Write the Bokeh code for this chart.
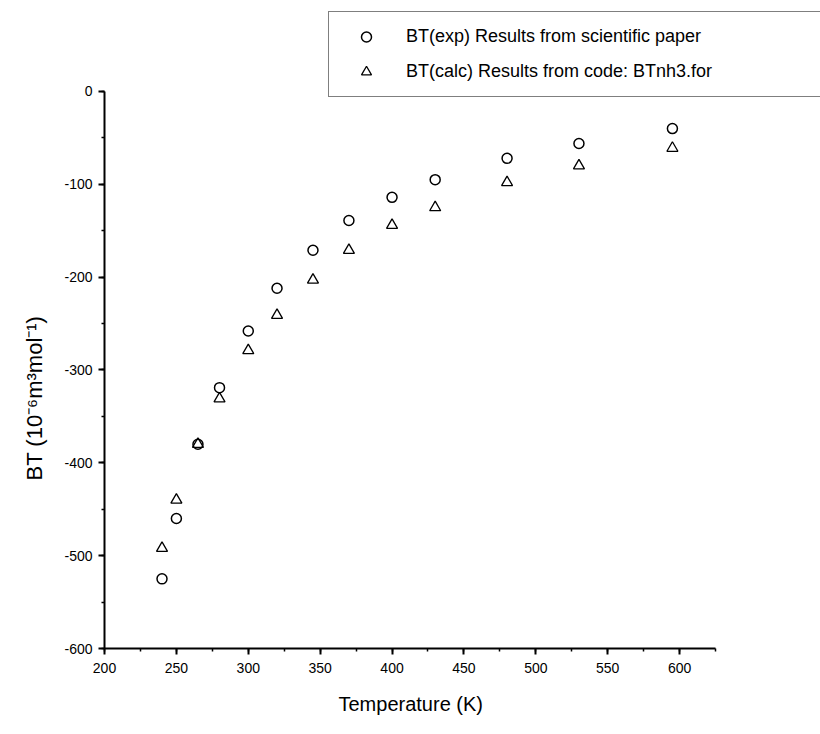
from bokeh.plotting import figure
from bokeh.models import Legend, LegendItem, SingleIntervalTicker, Range1d, CustomJSTickFormatter, Title
from bokeh.embed import file_html
from bokeh.resources import INLINE

temps = [240, 250, 265, 280, 300, 320, 345, 370, 400, 430, 480, 530, 595]
bt_exp = [-525, -460, -380, -319, -258, -212, -171, -139, -114, -95, -72, -56, -40]
bt_calc = [-492, -440, -380, -331, -279, -241, -203, -171, -144, -125, -98, -80, -61]

label_exp = "BT(exp) Results from scientific paper"
label_calc = "BT(calc) Results from code: BTnh3.for"
x_label = "Temperature (K)"
y_label = "BT (10\u207b\u2076m\u00b3mol\u207b\u00b9)"

FONT = "Liberation Sans"

p = figure(width=820, height=734, output_backend="svg", toolbar_location=None,
           x_range=Range1d(200, 698), y_range=Range1d(-600, 98),
           min_border_left=104, min_border_right=0, min_border_top=0, min_border_bottom=86)
p.outline_line_color = None
p.xgrid.visible = False
p.ygrid.visible = False
p.background_fill_color = "white"
p.border_fill_color = "white"

r1 = p.scatter(temps, bt_exp, marker="circle", size=10, fill_color=None,
               line_color="black", line_width=1.5)
r2 = p.scatter(temps, bt_calc, marker="triangle", size=11, fill_color=None,
               line_color="black", line_width=1.3)

p.xaxis.ticker = SingleIntervalTicker(interval=50, num_minor_ticks=2)
p.yaxis.ticker = SingleIntervalTicker(interval=100, num_minor_ticks=2)
p.xaxis.formatter = CustomJSTickFormatter(code="return String(tick);")
p.yaxis.formatter = CustomJSTickFormatter(code="return String(tick);")
p.xaxis.bounds = (200, 625)
p.yaxis.bounds = (-600, 0)

for ax in (p.xaxis[0], p.yaxis[0]):
    ax.axis_line_width = 2
    ax.axis_line_color = "black"
    ax.major_tick_line_width = 2
    ax.major_tick_line_color = "black"
    ax.minor_tick_line_color = "black"
    ax.minor_tick_line_width = 1.5
    ax.major_tick_out = 6
    ax.major_tick_in = 0
    ax.minor_tick_out = 3
    ax.minor_tick_in = 0
    ax.major_label_text_font = FONT
    ax.major_label_text_font_size = "14px"
    ax.major_label_text_color = "black"

p.xaxis.major_label_standoff = 8
p.yaxis.major_label_standoff = 6

xt = Title(text=x_label, align="left", offset=234, standoff=30,
           text_font=FONT, text_font_size="20px", text_font_style="normal",
           text_color="black")
p.add_layout(xt, "below")

yt = Title(text=y_label, align="left", offset=168, standoff=30,
           text_font=FONT, text_font_size="22px", text_font_style="normal",
           text_color="black")
p.add_layout(yt, "left")

legend = Legend(items=[LegendItem(label=label_exp, renderers=[r1]),
                       LegendItem(label=label_calc, renderers=[r2])],
                location=(224, 551), orientation="vertical")
legend.border_line_color = "black"
legend.border_line_width = 1.5
legend.background_fill_color = "white"
legend.background_fill_alpha = 1
legend.padding = 12
legend.spacing = 10
legend.label_height = 25
legend.glyph_height = 25
legend.glyph_width = 50
legend.label_standoff = 15
legend.label_width = 460
legend.label_text_font = FONT
legend.label_text_font_size = "18px"
legend.label_text_color = "black"
legend.margin = 0
p.add_layout(legend, "center")

open("out.html", "w").write(file_html(p, INLINE))
